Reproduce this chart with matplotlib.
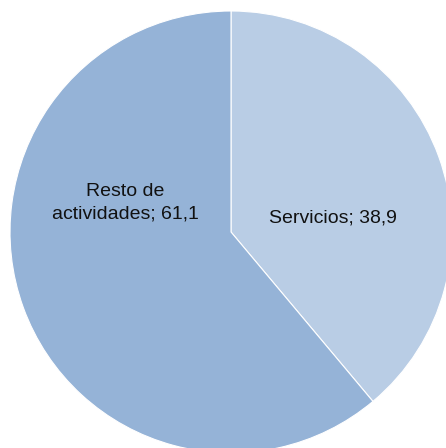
import matplotlib
matplotlib.use('Agg')
import matplotlib.pyplot as plt

labels = ['Servicios', 'Resto de\nactividades']
values = [38.9, 61.1]
colors = ['#B9CDE5', '#95B3D7']

plt.rcParams['font.family'] = ['Liberation Sans', 'DejaVu Sans']

fig = plt.figure(figsize=(4.46, 4.48), dpi=100)
ax = fig.add_axes([0, 0, 1, 1])
ax.pie(values, colors=colors, startangle=90, counterclock=False,
       radius=221, center=(0, 0), frame=True,
       wedgeprops=dict(edgecolor='white', linewidth=0.8))
ax.set_xlim(-231, 215)
ax.set_ylim(-216, 232)
ax.set_aspect('auto')
ax.axis('off')

ax.text(102, 14, '{}; {}'.format(labels[0], str(values[0]).replace('.', ',')),
        ha='center', va='center', fontsize=14, color='#111111')
ax.text(-106, 29, '{}; {}'.format(labels[1], str(values[1]).replace('.', ',')),
        ha='center', va='center', fontsize=14, linespacing=1.4, color='#111111')

fig.savefig('out.png', dpi=100)
